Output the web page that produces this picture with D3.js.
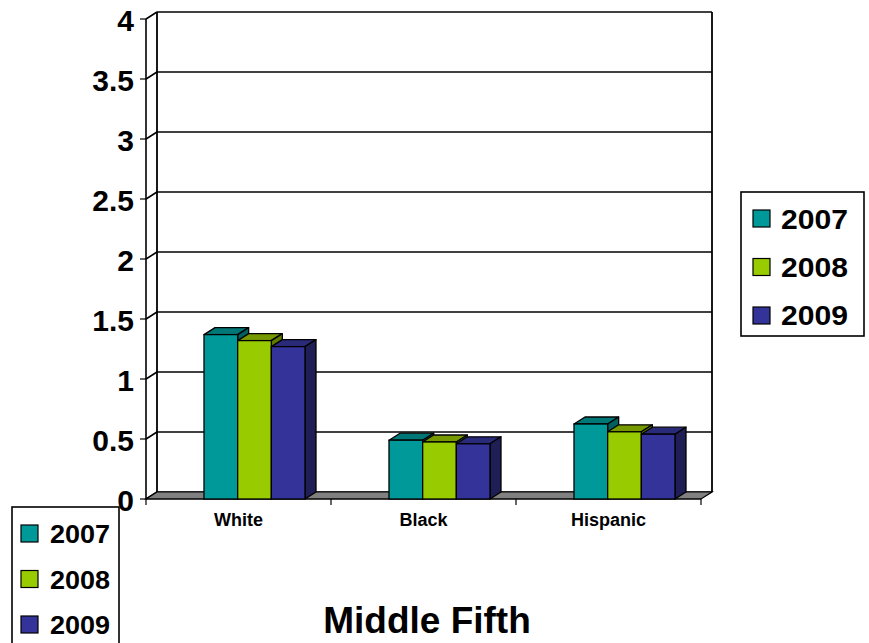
<!DOCTYPE html>
<html>
<head>
<title>Middle Fifth</title>
<script type="text/javascript" src="https://cdn.jsdelivr.net/npm/d3@7/dist/d3.min.js"></script>
<style type="text/css">
body { margin: 0; background: white; }
text { font-family: "Liberation Sans", Arial, sans-serif; font-weight: bold; }
</style>
</head>
<body>
<script>
var categories = ["White", "Black", "Hispanic"],
    years = ["2007", "2008", "2009"],
    values2007 = [1.37, 0.49, 0.625],
    values2008 = [1.32, 0.475, 0.56],
    values2009 = [1.27, 0.46, 0.54],
    yTicks = [0, 0.5, 1, 1.5, 2, 2.5, 3, 3.5, 4],
    colors = ["#009999", "#99CC00", "#333399"],
    topColors = ["#007777", "#779900", "#2a2a7a"],
    sideColors = ["#005f5f", "#5f7a00", "#1f1f55"];

var series = [values2007, values2008, values2009];

var width = 869, height = 643,
    dx = 11, dy = -7; // depth offset of the 3d look

var svg = d3.select("body").append("svg").attr("width", width).attr("height", height);

var x = d3.scaleBand().domain(categories).range([146, 701]);
var xs = d3.scaleBand().domain(years).range([58, 159]);
var y = d3.scaleLinear().domain([0, 4]).range([499, 19]);

var x0 = x.range()[0], x1 = x.range()[1];

// back wall + gridlines
svg.selectAll("line.grid").data(yTicks).enter().append("line")
  .attr("x1", x0 + dx).attr("x2", x1 + dx)
  .attr("y1", function(d){ return y(d) + dy; }).attr("y2", function(d){ return y(d) + dy; })
  .attr("stroke", "black").attr("stroke-width", 1.6);

svg.append("line").attr("x1", x0 + dx).attr("x2", x0 + dx)
  .attr("y1", y(4) + dy).attr("y2", y(0) + dy).attr("stroke", "black").attr("stroke-width", 1.8);
svg.append("line").attr("x1", x1 + dx).attr("x2", x1 + dx)
  .attr("y1", y(4) + dy).attr("y2", y(0) + dy).attr("stroke", "black").attr("stroke-width", 1.8);

// left side wall diagonals
svg.selectAll("line.diag").data(yTicks).enter().append("line")
  .attr("x1", x0).attr("x2", x0 + dx)
  .attr("y1", function(d){ return y(d); }).attr("y2", function(d){ return y(d) + dy; })
  .attr("stroke", "black").attr("stroke-width", 1.6);

// floor
svg.append("path")
  .attr("d", "M" + x0 + "," + y(0) + "L" + x1 + "," + y(0) + "L" + (x1 + dx) + "," + (y(0) + dy) +
    "L" + (x0 + dx) + "," + (y(0) + dy) + "Z")
  .attr("fill", "#808080").attr("stroke", "black").attr("stroke-width", 1.2);

// front value axis
svg.append("line").attr("x1", x0).attr("x2", x0)
  .attr("y1", y(4)).attr("y2", y(0)).attr("stroke", "black").attr("stroke-width", 1.6);
svg.selectAll("line.ytick").data(yTicks).enter().append("line")
  .attr("x1", x0 - 6).attr("x2", x0)
  .attr("y1", function(d){ return y(d); }).attr("y2", function(d){ return y(d); })
  .attr("stroke", "black").attr("stroke-width", 1.2);
svg.selectAll("text.ylab").data(yTicks).enter().append("text")
  .attr("x", 134).attr("y", function(d){ return y(d) + 1; })
  .attr("text-anchor", "end").attr("dominant-baseline", "central")
  .attr("font-size", 30).text(function(d){ return d; });

// category axis
svg.append("line").attr("x1", x0).attr("x2", x1)
  .attr("y1", y(0)).attr("y2", y(0)).attr("stroke", "black").attr("stroke-width", 1.2);
svg.selectAll("line.xtick").data(categories.concat(["end"])).enter().append("line")
  .attr("x1", function(d, i){ return i < 3 ? x(d) : x1; })
  .attr("x2", function(d, i){ return i < 3 ? x(d) : x1; })
  .attr("y1", y(0)).attr("y2", y(0) + 6)
  .attr("stroke", "black").attr("stroke-width", 1.2);
svg.selectAll("text.xlab").data(categories).enter().append("text")
  .attr("x", function(d){ return x(d) + x.bandwidth() / 2; }).attr("y", 526)
  .attr("text-anchor", "middle").attr("font-size", 18).text(function(d){ return d; });

// bars
categories.forEach(function(c, ci) {
  years.forEach(function(yr, si) {
    var v = series[si][ci];
    var bx = x(c) + xs(yr), bw = xs.bandwidth(), top = y(v), bot = y(0);
    var g = svg.append("g");
    g.append("path")
      .attr("d", "M" + bx + "," + top + "L" + (bx + dx) + "," + (top + dy) + "L" + (bx + bw + dx) + "," + (top + dy) +
        "L" + (bx + bw) + "," + top + "Z")
      .attr("fill", topColors[si]).attr("stroke", "black").attr("stroke-width", 1.3).attr("stroke-linejoin", "round");
    g.append("path")
      .attr("d", "M" + (bx + bw) + "," + top + "L" + (bx + bw + dx) + "," + (top + dy) + "L" + (bx + bw + dx) + "," + (bot + dy) +
        "L" + (bx + bw) + "," + bot + "Z")
      .attr("fill", sideColors[si]).attr("stroke", "black").attr("stroke-width", 1.3).attr("stroke-linejoin", "round");
    g.append("rect")
      .attr("x", bx).attr("y", top).attr("width", bw).attr("height", bot - top)
      .attr("fill", colors[si]).attr("stroke", "black").attr("stroke-width", 1.3);
  });
});

// right legend
var leg = svg.append("g");
leg.append("rect").attr("x", 741).attr("y", 192).attr("width", 123).attr("height", 144)
  .attr("fill", "white").attr("stroke", "black").attr("stroke-width", 1.6);
leg.selectAll("rect.sw").data(years).enter().append("rect")
  .attr("x", 753).attr("y", function(d, i){ return 210 + i * 48.5; })
  .attr("width", 17).attr("height", 17)
  .attr("fill", function(d, i){ return colors[i]; }).attr("stroke", "black").attr("stroke-width", 1.2);
leg.selectAll("text").data(years).enter().append("text")
  .attr("x", 781).attr("y", function(d, i){ return 220 + i * 48; })
  .attr("dominant-baseline", "central").attr("font-size", 27)
  .attr("textLength", 67).attr("lengthAdjust", "spacingAndGlyphs")
  .text(function(d){ return d; });

// bottom-left legend
var leg2 = svg.append("g");
leg2.append("rect").attr("x", 12).attr("y", 507).attr("width", 107).attr("height", 150)
  .attr("fill", "white").attr("stroke", "black").attr("stroke-width", 1.6);
leg2.selectAll("rect.sw").data(years).enter().append("rect")
  .attr("x", 21).attr("y", function(d, i){ return 525 + i * 45.5; })
  .attr("width", 17).attr("height", 17)
  .attr("fill", function(d, i){ return colors[i]; }).attr("stroke", "black").attr("stroke-width", 1.2);
leg2.selectAll("text").data(years).enter().append("text")
  .attr("x", 50).attr("y", function(d, i){ return 534 + i * 45.5; })
  .attr("dominant-baseline", "central").attr("font-size", 25)
  .attr("textLength", 60).attr("lengthAdjust", "spacingAndGlyphs")
  .text(function(d){ return d; });

// title
svg.append("text").attr("x", 427).attr("y", 633).attr("text-anchor", "middle")
  .attr("font-size", 37).text("Middle Fifth");
</script>
</body>
</html>
